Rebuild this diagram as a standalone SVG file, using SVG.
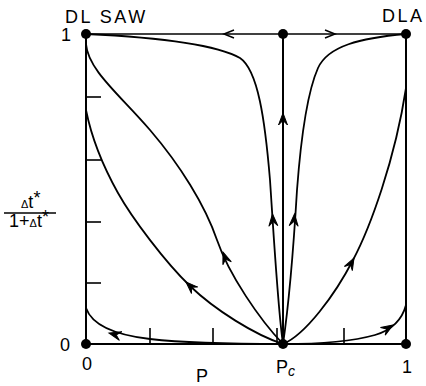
<svg xmlns="http://www.w3.org/2000/svg" width="426" height="386" viewBox="0 0 426 386">
<style>
.ax{stroke:#000;stroke-width:2;fill:none}
.cv{stroke:#000;stroke-width:1.8;fill:none}
.tk{stroke:#000;stroke-width:1.6}
.lb{font-family:"Liberation Sans",Arial,sans-serif;font-size:18px;fill:#000}
.ah{fill:#000;stroke:#000;stroke-width:1;stroke-linejoin:miter}
.oc{fill:none;stroke:#000;stroke-width:1.5}
</style>
<defs>
<path id="ah" d="M0,0 L-12,-4.5 L-7.5,0 L-12,4.5 Z"/>
<path id="oh" d="M-10,-4 L0,0 L-10,4"/>
</defs>
<rect width="426" height="386" fill="#fff"/>
<g id="frame">
<line class="ax" x1="86" y1="34" x2="86" y2="344"/>
<line class="ax" x1="86" y1="344" x2="406" y2="344"/>
<line class="ax" x1="406" y1="34" x2="406" y2="344"/>
<line class="tk" x1="86" y1="97" x2="101" y2="97"/>
<line class="tk" x1="86" y1="160" x2="101" y2="160"/>
<line class="tk" x1="86" y1="222" x2="101" y2="222"/>
<line class="tk" x1="86" y1="283" x2="101" y2="283"/>
<line class="tk" x1="150" y1="328" x2="150" y2="344"/>
<line class="tk" x1="213" y1="328" x2="213" y2="344"/>
<line class="tk" x1="277" y1="328" x2="277" y2="344"/>
<line class="tk" x1="344" y1="328" x2="344" y2="344"/>
</g>
<g id="connectors">
<line class="ax" x1="86" y1="34" x2="406" y2="34" style="stroke-width:1.6"/>
<line class="ax" x1="283" y1="34" x2="283" y2="344"/>
<path class="cv" d="M86,34 C150,37 215,44 240,58 C258,70 265,120 270,180 C274,240 278,310 283,344"/>
<path class="cv" d="M406,34 C360,38 328,46 318,68 C306,95 300,150 297,190 C294,240 288,310 283,344"/>
<path class="cv" d="M86,44 C88,70 120,95 150,130 C180,165 205,205 217,240 C229,275 260,320 283,344"/>
<path class="cv" d="M86,110 C92,140 104,168 118,193 C132,218 165,262 190,286 C215,310 255,335 283,344"/>
<path class="cv" d="M86,308 C92,325 115,335 150,339 C185,343 240,344 283,344"/>
<path class="cv" d="M283,344 C305,335 335,295 353,260 C370,228 395,160 406,88"/>
<path class="cv" d="M283,344 C320,344 350,342 375,335 C392,330 402,320 406,305"/>
<use href="#oh" class="oc" transform="translate(224,34) rotate(180)"/>
<use href="#oh" class="oc" transform="translate(335,34)"/>
<use href="#ah" class="ah" transform="translate(283,113) rotate(-90)"/>
<use href="#ah" class="ah" transform="translate(272.5,214) rotate(-94)"/>
<use href="#ah" class="ah" transform="translate(294.5,214) rotate(-86)"/>
<use href="#ah" class="ah" transform="translate(223,252) rotate(-110)"/>
<use href="#ah" class="ah" transform="translate(186,282) rotate(-136)"/>
<use href="#ah" class="ah" transform="translate(109,333) rotate(-165)"/>
<use href="#ah" class="ah" transform="translate(354,258) rotate(-62)"/>
<use href="#ah" class="ah" transform="translate(393,325) rotate(-32)"/>
</g>
<g id="dots">
<circle cx="86" cy="34" r="5"/>
<circle cx="283" cy="34" r="5"/>
<circle cx="406" cy="34" r="5"/>
<circle cx="86" cy="344" r="5"/>
<circle cx="283" cy="344" r="5"/>
<circle cx="406" cy="344" r="5"/>
</g>
<g id="labels">
<text class="lb" x="65" y="23" letter-spacing="2.5">DL SAW</text>
<text class="lb" x="382" y="22" letter-spacing="2.5">DLA</text>
<text class="lb" x="61" y="41">1</text>
<text class="lb" x="60" y="351">0</text>
<text class="lb" x="82" y="370">0</text>
<text class="lb" x="196" y="382">P</text>
<text class="lb" x="276" y="373">P<tspan font-size="14" font-style="italic" dy="3">c</tspan></text>
<text class="lb" x="402" y="373">1</text>
<text class="lb" x="21" y="208"><tspan font-size="11">Δ</tspan>t<tspan dy="-4" font-size="18">*</tspan></text>
<line x1="4" y1="213" x2="56" y2="213" stroke="#000" stroke-width="1.5"/>
<text class="lb" x="9" y="227">1+<tspan font-size="11">Δ</tspan>t<tspan dy="-4" font-size="18">*</tspan></text>
</g>
</svg>
